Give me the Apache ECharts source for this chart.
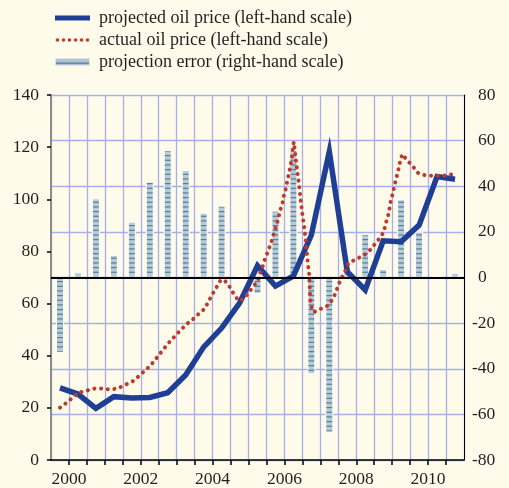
<!DOCTYPE html>
<html>
<head>
<meta charset="utf-8">
<script src="https://cdn.jsdelivr.net/npm/echarts@6/dist/echarts.min.js"></script>
<style>
  html, body { margin: 0; padding: 0; background: #fffbeb; }
  #chart { width: 509px; height: 488px; }
</style>
</head>
<body>
<div id="chart"></div>
<script>
// Half-year periods shared by the projection series
const halfYears = [
  '2000 H1', '2000 H2', '2001 H1', '2001 H2', '2002 H1', '2002 H2',
  '2003 H1', '2003 H2', '2004 H1', '2004 H2', '2005 H1', '2005 H2',
  '2006 H1', '2006 H2', '2007 H1', '2007 H2', '2008 H1', '2008 H2',
  '2009 H1', '2009 H2', '2010 H1', '2010 H2', '2011 H1'
];

// Projected oil price, US$ per barrel (left-hand scale)
const projectedPrice = [
  27.7, 25.3, 19.8, 24.3, 23.8, 24.0, 25.8, 32.6, 43.3, 50.6, 60.2, 74.5,
  66.7, 70.6, 86.3, 118.3, 72.2, 65.2, 84.1, 83.7, 90.1, 108.7, 107.7
];

// Projection error, per cent (right-hand scale)
const projectionError = [
  -33, 2.3, 34.7, 9.9, 24.5, 42, 55.9, 47.1, 28.4, 31.5, 0.7, -7.2,
  29.3, 55.9, -42.4, -68, 4.7, 19.1, 3.7, 34.3, 20.1, 0.5, 2.1
];

// Actual oil price (left-hand scale): decimal-year dates and prices
const actualDate = [
  2000.25, 2000.44, 2000.60, 2000.76, 2000.99, 2001.21, 2001.42, 2001.64, 2001.87,
  2002.06, 2002.26, 2002.43, 2002.60, 2002.76, 2002.91, 2003.04, 2003.18, 2003.32,
  2003.47, 2003.63, 2003.79, 2003.96, 2004.13, 2004.28, 2004.39, 2004.50, 2004.62,
  2004.73, 2004.84, 2004.97, 2005.09, 2005.22, 2005.34, 2005.49, 2005.63, 2005.76,
  2005.82, 2005.90, 2005.97, 2006.05, 2006.13, 2006.19, 2006.26, 2006.32, 2006.37,
  2006.44, 2006.48, 2006.54, 2006.58, 2006.63, 2006.67, 2006.71, 2006.73, 2006.76,
  2006.78, 2006.83, 2006.89, 2006.94, 2006.99, 2007.05, 2007.10, 2007.14, 2007.19,
  2007.21, 2007.22, 2007.25, 2007.32, 2007.50, 2007.71, 2007.84, 2007.93, 2008.00,
  2008.10, 2008.19, 2008.28, 2008.49, 2008.69, 2008.87, 2009.01, 2009.17, 2009.27,
  2009.31, 2009.38, 2009.42, 2009.46, 2009.52, 2009.56, 2009.62, 2009.67, 2009.72,
  2009.78, 2009.92, 2010.08, 2010.21, 2010.40, 2010.63, 2010.86, 2011.07, 2011.23
];
const actualPrice = [
  20.1, 22.0, 23.9, 25.8, 26.6, 27.4, 27.4, 27.0, 27.5,
  28.8, 30.0, 32.0, 34.1, 36.1, 38.6, 40.9, 43.3, 45.6,
  47.8, 50.1, 52.3, 54.1, 56.3, 58.0, 60.9, 63.7, 66.5,
  69.1, 68.8, 66.5, 63.7, 61.1, 61.6, 63.9, 66.5, 68.8,
  71.6, 74.5, 77.6, 80.3, 83.4, 86.3, 89.3, 92.0, 95.2,
  98.2, 101.2, 104.2, 107.1, 110.2, 113.1, 116.3, 119.1, 122.0,
  119.9, 113.8, 107.4, 101.3, 95.3, 89.3, 83.4, 77.0, 71.0,
  64.8, 61.6, 58.8, 56.7, 57.9, 59.2, 61.6, 64.2, 67.1,
  70.1, 72.5, 75.4, 77.0, 78.3, 80.3, 82.7, 85.4, 87.5,
  90.3, 93.3, 96.1, 99.3, 102.3, 105.2, 108.4, 111.2, 114.4,
  117.3, 114.9, 112.6, 110.2, 109.3, 109.0, 109.0, 109.3, 109.7
];

// Year ticks shown under the axis
const yearLabels = [2000, 2002, 2004, 2006, 2008, 2010];

// Centre of a half-year period as a decimal year
function midYear(label) {
  const [y, h] = label.split(' ');
  return Number(y) + (h === 'H1' ? 0.25 : 0.75);
}

const FONT = '"Liberation Serif", "Times New Roman", serif';
const GRID_COLOR = '#a7b0e6';
const BLUE = '#1f3f95';
const RED = '#c0392b';

function makeCanvas(w, h) {
  const c = document.createElement('canvas');
  c.width = w; c.height = h;
  return c;
}

// Striped fill used for the error bars
function stripePattern() {
  const c = makeCanvas(8, 14);
  const g = c.getContext('2d');
  g.fillStyle = '#b9c9d5';
  g.fillRect(0, 0, 8, 14);
  g.fillStyle = '#4f8497';
  [1, 5.67, 10.33].forEach(y => g.fillRect(0, y, 8, 1.2));
  return c;
}

// Legend swatches
function blueSwatch() {
  const c = makeCanvas(35, 8);
  const g = c.getContext('2d');
  g.fillStyle = BLUE;
  g.fillRect(0, 1.5, 35, 5);
  return c.toDataURL();
}
function redSwatch() {
  const c = makeCanvas(35, 8);
  const g = c.getContext('2d');
  g.fillStyle = RED;
  for (let i = 0; i < 6; i++) {
    g.beginPath();
    g.arc(2.5 + i * 6, 4, 1.8, 0, Math.PI * 2);
    g.fill();
  }
  return c.toDataURL();
}
function barSwatch() {
  const c = makeCanvas(35, 8);
  const g = c.getContext('2d');
  g.fillStyle = '#dbe4ea';
  g.fillRect(0, 0, 35, 8);
  g.fillStyle = '#b3c3cf';
  g.fillRect(1, 1, 33, 6);
  g.fillStyle = '#4f8497';
  g.fillRect(1, 4.5, 33, 1.3);
  return c.toDataURL();
}

const chart = echarts.init(document.getElementById('chart'), null, { renderer: 'canvas' });

chart.setOption({
  backgroundColor: '#fffbeb',
  animation: false,
  textStyle: { fontFamily: FONT },
  legend: {
    orient: 'vertical',
    left: 50,
    top: 4,
    itemWidth: 35,
    itemHeight: 8,
    itemGap: 4,
    textStyle: { fontFamily: FONT, fontSize: 18, color: '#231f20', padding: [0, 0, 0, 4] },
    data: [
      { name: 'projected oil price (left-hand scale)', icon: 'image://' + blueSwatch() },
      { name: 'actual oil price (left-hand scale)', icon: 'image://' + redSwatch() },
      { name: 'projection error (right-hand scale)', icon: 'image://' + barSwatch() }
    ]
  },
  grid: { left: 51, right: 45, top: 95, bottom: 28, containLabel: false },
  xAxis: {
    type: 'value',
    min: 2000,
    max: 2011.5,
    interval: 0.5,
    axisLine: { show: true, onZero: false, lineStyle: { color: '#000', width: 1.5 } },
    axisTick: { show: true, length: 5, lineStyle: { color: '#000', width: 1.5 } },
    splitLine: { show: true, lineStyle: { color: GRID_COLOR, width: 1.3 } },
    axisLabel: {
      margin: 10,
      fontFamily: FONT,
      fontSize: 17.5,
      color: '#231f20',
      showMinLabel: false,
      showMaxLabel: false,
      formatter: v => {
        const y = Math.floor(v);
        return (v - y === 0.5 && yearLabels.includes(y)) ? String(y) : '';
      }
    }
  },
  yAxis: [
    {
      type: 'value',
      position: 'left',
      min: 0,
      max: 140,
      interval: 20,
      axisLine: { show: true, lineStyle: { color: '#8c8c8c', width: 2 } },
      axisTick: { show: true, length: 4, lineStyle: { color: '#000', width: 1.5 } },
      splitLine: { show: false },
      axisLabel: { margin: 12, fontFamily: FONT, fontSize: 17.5, color: '#231f20' }
    },
    {
      type: 'value',
      position: 'right',
      min: -80,
      max: 80,
      interval: 20,
      axisLine: { show: true, lineStyle: { color: '#000', width: 1 } },
      axisTick: { show: false },
      splitLine: { show: true, lineStyle: { color: GRID_COLOR, width: 1.3 } },
      axisLabel: {
        margin: 8,
        align: 'left',
        fontFamily: FONT,
        fontSize: 17.5,
        color: '#231f20',
        formatter: v => (v < 0 ? String(v) : '{pad|}' + v),
        rich: { pad: { width: 6 } }
      }
    }
  ],
  series: [
    {
      name: 'projection error (right-hand scale)',
      type: 'bar',
      yAxisIndex: 1,
      barWidth: 8,
      z: 2,
      data: halfYears.map((p, i) => [midYear(p), projectionError[i]]),
      itemStyle: {
        color: { image: stripePattern(), repeat: 'repeat' },
        borderColor: '#ffffff',
        borderWidth: 1
      },
      markLine: {
        silent: true,
        symbol: 'none',
        label: { show: false },
        lineStyle: { color: '#000', width: 2, type: 'solid' },
        data: [{ yAxis: 0 }]
      }
    },
    {
      name: 'projected oil price (left-hand scale)',
      type: 'line',
      yAxisIndex: 0,
      symbol: 'none',
      z: 3,
      data: halfYears.map((p, i) => [midYear(p), projectedPrice[i]]),
      lineStyle: { color: BLUE, width: 5.5, join: 'miter' },
      itemStyle: { color: BLUE }
    },
    {
      name: 'actual oil price (left-hand scale)',
      type: 'line',
      yAxisIndex: 0,
      symbol: 'none',
      z: 4,
      data: actualDate.map((d, i) => [d, actualPrice[i]]),
      lineStyle: { color: RED, width: 4, type: [0.1, 6.6], cap: 'round' },
      itemStyle: { color: RED }
    }
  ]
});
</script>
</body>
</html>
